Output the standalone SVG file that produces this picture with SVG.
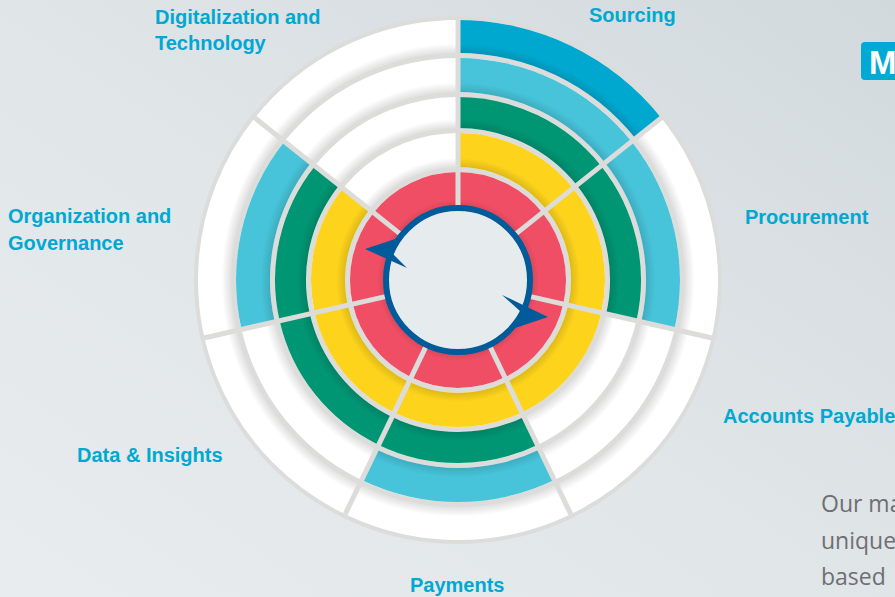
<svg xmlns="http://www.w3.org/2000/svg" width="895" height="597" viewBox="0 0 895 597">
  <defs>
    <linearGradient id="bg" x1="1" y1="0" x2="0" y2="1">
      <stop offset="0" stop-color="#d2d9dc"/>
      <stop offset="0.55" stop-color="#e1e6e9"/>
      <stop offset="1" stop-color="#e8ecef"/>
    </linearGradient>
    <!-- soft inner-edge shading for each ring -->
    <radialGradient id="sh1" gradientUnits="userSpaceOnUse" cx="458" cy="280" r="108">
      <stop offset="0.667" stop-color="#000" stop-opacity="0.12"/>
      <stop offset="0.75" stop-color="#000" stop-opacity="0"/>
    </radialGradient>
    <radialGradient id="sh2" gradientUnits="userSpaceOnUse" cx="458" cy="280" r="147">
      <stop offset="0.769" stop-color="#000" stop-opacity="0.12"/>
      <stop offset="0.83" stop-color="#000" stop-opacity="0"/>
    </radialGradient>
    <radialGradient id="sh3" gradientUnits="userSpaceOnUse" cx="458" cy="280" r="183">
      <stop offset="0.831" stop-color="#000" stop-opacity="0.12"/>
      <stop offset="0.88" stop-color="#000" stop-opacity="0"/>
    </radialGradient>
    <radialGradient id="sh4" gradientUnits="userSpaceOnUse" cx="458" cy="280" r="222">
      <stop offset="0.847" stop-color="#000" stop-opacity="0.12"/>
      <stop offset="0.89" stop-color="#000" stop-opacity="0"/>
    </radialGradient>
    <radialGradient id="sh5" gradientUnits="userSpaceOnUse" cx="458" cy="280" r="260">
      <stop offset="0.873" stop-color="#000" stop-opacity="0.12"/>
      <stop offset="0.91" stop-color="#000" stop-opacity="0"/>
    </radialGradient>
  </defs>
  <style>
    .lbl { font-family: "Liberation Sans", Arial, sans-serif; font-weight: bold; font-size: 20px; fill: #00a8d2; }
    .body { font-family: "Open Sans", "Liberation Sans", sans-serif; font-size: 23px; fill: #6e6f71; }
    .white { fill: none; stroke: #ffffff; }
    .red { fill: #f04e64; }
    .yel { fill: #fdd31c; }
    .grn { fill: #009573; }
    .lcy { fill: #47c4da; }
    .dcy { fill: #00a8d0; }
    .div { stroke: #dcdddb; stroke-width: 5; }
  </style>

  <rect width="895" height="597" fill="url(#bg)"/>

  <!-- wheel base and blank rings -->
  <g id="wheel-base">
    <circle cx="458" cy="280" r="264" fill="#dcdddb"/>
    <circle class="white" cx="458" cy="280" r="243.5" stroke-width="33"/>
    <circle class="white" cx="458" cy="280" r="205" stroke-width="34"/>
    <circle class="white" cx="458" cy="280" r="167.5" stroke-width="31"/>
    <circle class="white" cx="458" cy="280" r="130" stroke-width="34"/>
    <circle class="white" cx="458" cy="280" r="90" stroke-width="36"/>
  </g>

  <g id="sourcing">
    <path class="red" d="M458 172 A108 108 0 0 1 542.44 212.66 L514.29 235.11 A72 72 0 0 0 458 208 Z"/>
    <path class="yel" d="M458 133 A147 147 0 0 1 572.93 188.35 L546.35 209.55 A113 113 0 0 0 458 167 Z"/>
    <path class="grn" d="M458 97 A183 183 0 0 1 601.08 165.90 L576.84 185.23 A152 152 0 0 0 458 128 Z"/>
    <path class="lcy" d="M458 58 A222 222 0 0 1 631.57 141.59 L604.98 162.78 A188 188 0 0 0 458 92 Z"/>
    <path class="dcy" d="M458 20 A260 260 0 0 1 661.28 117.89 L635.48 138.47 A227 227 0 0 0 458 53 Z"/>
    <text class="lbl" x="589" y="22">Sourcing</text>
  </g>

  <g id="procurement">
    <path class="red" d="M542.44 212.66 A108 108 0 0 1 563.29 304.03 L528.19 296.02 A72 72 0 0 0 514.29 235.11 Z"/>
    <path class="yel" d="M572.93 188.35 A147 147 0 0 1 601.31 312.71 L568.17 305.14 A113 113 0 0 0 546.35 209.55 Z"/>
    <path class="grn" d="M601.08 165.90 A183 183 0 0 1 636.41 320.72 L606.19 313.82 A152 152 0 0 0 576.84 185.23 Z"/>
    <path class="lcy" d="M631.57 141.59 A222 222 0 0 1 674.43 329.40 L641.29 321.83 A188 188 0 0 0 604.98 162.78 Z"/>
    <text class="lbl" x="745" y="224">Procurement</text>
  </g>

  <g id="accounts-payable">
    <path class="red" d="M563.29 304.03 A108 108 0 0 1 504.86 377.30 L489.24 344.87 A72 72 0 0 0 528.19 296.02 Z"/>
    <path class="yel" d="M601.31 312.71 A147 147 0 0 1 521.78 412.44 L507.03 381.81 A113 113 0 0 0 568.17 305.14 Z"/>
    <text class="lbl" x="723" y="423">Accounts Payable</text>
  </g>

  <g id="payments">
    <path class="red" d="M504.86 377.30 A108 108 0 0 1 411.14 377.30 L426.76 344.87 A72 72 0 0 0 489.24 344.87 Z"/>
    <path class="yel" d="M521.78 412.44 A147 147 0 0 1 394.22 412.44 L408.97 381.81 A113 113 0 0 0 507.03 381.81 Z"/>
    <path class="grn" d="M537.40 444.88 A183 183 0 0 1 378.60 444.88 L392.05 416.95 A152 152 0 0 0 523.95 416.95 Z"/>
    <path class="lcy" d="M554.32 480.02 A222 222 0 0 1 361.68 480.02 L376.43 449.38 A188 188 0 0 0 539.57 449.38 Z"/>
    <text class="lbl" x="410" y="592">Payments</text>
  </g>

  <g id="data-insights">
    <path class="red" d="M411.14 377.30 A108 108 0 0 1 352.71 304.03 L387.81 296.02 A72 72 0 0 0 426.76 344.87 Z"/>
    <path class="yel" d="M394.22 412.44 A147 147 0 0 1 314.69 312.71 L347.83 305.14 A113 113 0 0 0 408.97 381.81 Z"/>
    <path class="grn" d="M378.60 444.88 A183 183 0 0 1 279.59 320.72 L309.81 313.82 A152 152 0 0 0 392.05 416.95 Z"/>
    <text class="lbl" x="77" y="462">Data &amp; Insights</text>
  </g>

  <g id="organization-governance">
    <path class="red" d="M352.71 304.03 A108 108 0 0 1 373.56 212.66 L401.71 235.11 A72 72 0 0 0 387.81 296.02 Z"/>
    <path class="yel" d="M314.69 312.71 A147 147 0 0 1 343.07 188.35 L369.65 209.55 A113 113 0 0 0 347.83 305.14 Z"/>
    <path class="grn" d="M279.59 320.72 A183 183 0 0 1 314.92 165.90 L339.16 185.23 A152 152 0 0 0 309.81 313.82 Z"/>
    <path class="lcy" d="M241.57 329.40 A222 222 0 0 1 284.43 141.59 L311.02 162.78 A188 188 0 0 0 274.71 321.83 Z"/>
    <text class="lbl" x="8" y="223">Organization and</text>
    <text class="lbl" x="8" y="250">Governance</text>
  </g>

  <g id="digitalization-technology">
    <path class="red" d="M373.56 212.66 A108 108 0 0 1 458 172 L458 208 A72 72 0 0 0 401.71 235.11 Z"/>
    <text class="lbl" x="155" y="24">Digitalization and</text>
    <text class="lbl" x="155" y="50">Technology</text>
  </g>

  <!-- inner-edge shading over every ring -->
  <g id="ring-shading" fill="none">
    <circle cx="458" cy="280" r="90" stroke="url(#sh1)" stroke-width="36"/>
    <circle cx="458" cy="280" r="130" stroke="url(#sh2)" stroke-width="34"/>
    <circle cx="458" cy="280" r="167.5" stroke="url(#sh3)" stroke-width="31"/>
    <circle cx="458" cy="280" r="205" stroke="url(#sh4)" stroke-width="34"/>
    <circle cx="458" cy="280" r="243.5" stroke="url(#sh5)" stroke-width="33"/>
  </g>

  <!-- sector dividers -->
  <g id="dividers" class="div">
    <line x1="458" y1="210" x2="458" y2="16"/>
    <line x1="512.73" y1="236.36" x2="664.40" y2="115.40"/>
    <line x1="526.24" y1="295.58" x2="715.39" y2="338.75"/>
    <line x1="488.37" y1="343.07" x2="572.55" y2="517.86"/>
    <line x1="427.63" y1="343.07" x2="343.45" y2="517.86"/>
    <line x1="389.76" y1="295.58" x2="200.61" y2="338.75"/>
    <line x1="403.27" y1="236.36" x2="251.60" y2="115.40"/>
  </g>

  <!-- hub with cycle arrows -->
  <g id="hub">
    <circle cx="458" cy="280" r="70" fill="#e6ebee"/>
    <circle cx="458" cy="280" r="72" fill="none" stroke="#005b9a" stroke-width="6"/>
    <polygon points="365,249 398,238 392,253 407,268" fill="#005b9a"/>
    <polygon points="548,317 515,328 520,311 502,295" fill="#005b9a"/>
  </g>

  <!-- badge and body copy at the right edge -->
  <g id="badge">
    <rect x="861" y="42" width="50" height="38" rx="4" fill="#00aad5"/>
    <text x="869" y="74" font-family="Liberation Sans, Arial, sans-serif" font-weight="bold" font-size="33" fill="#ffffff">M</text>
  </g>
  <g id="body-copy">
    <text class="body" x="821" y="512">Our ma</text>
    <text class="body" x="821" y="549">unique</text>
    <text class="body" x="821" y="585">based</text>
  </g>
</svg>
